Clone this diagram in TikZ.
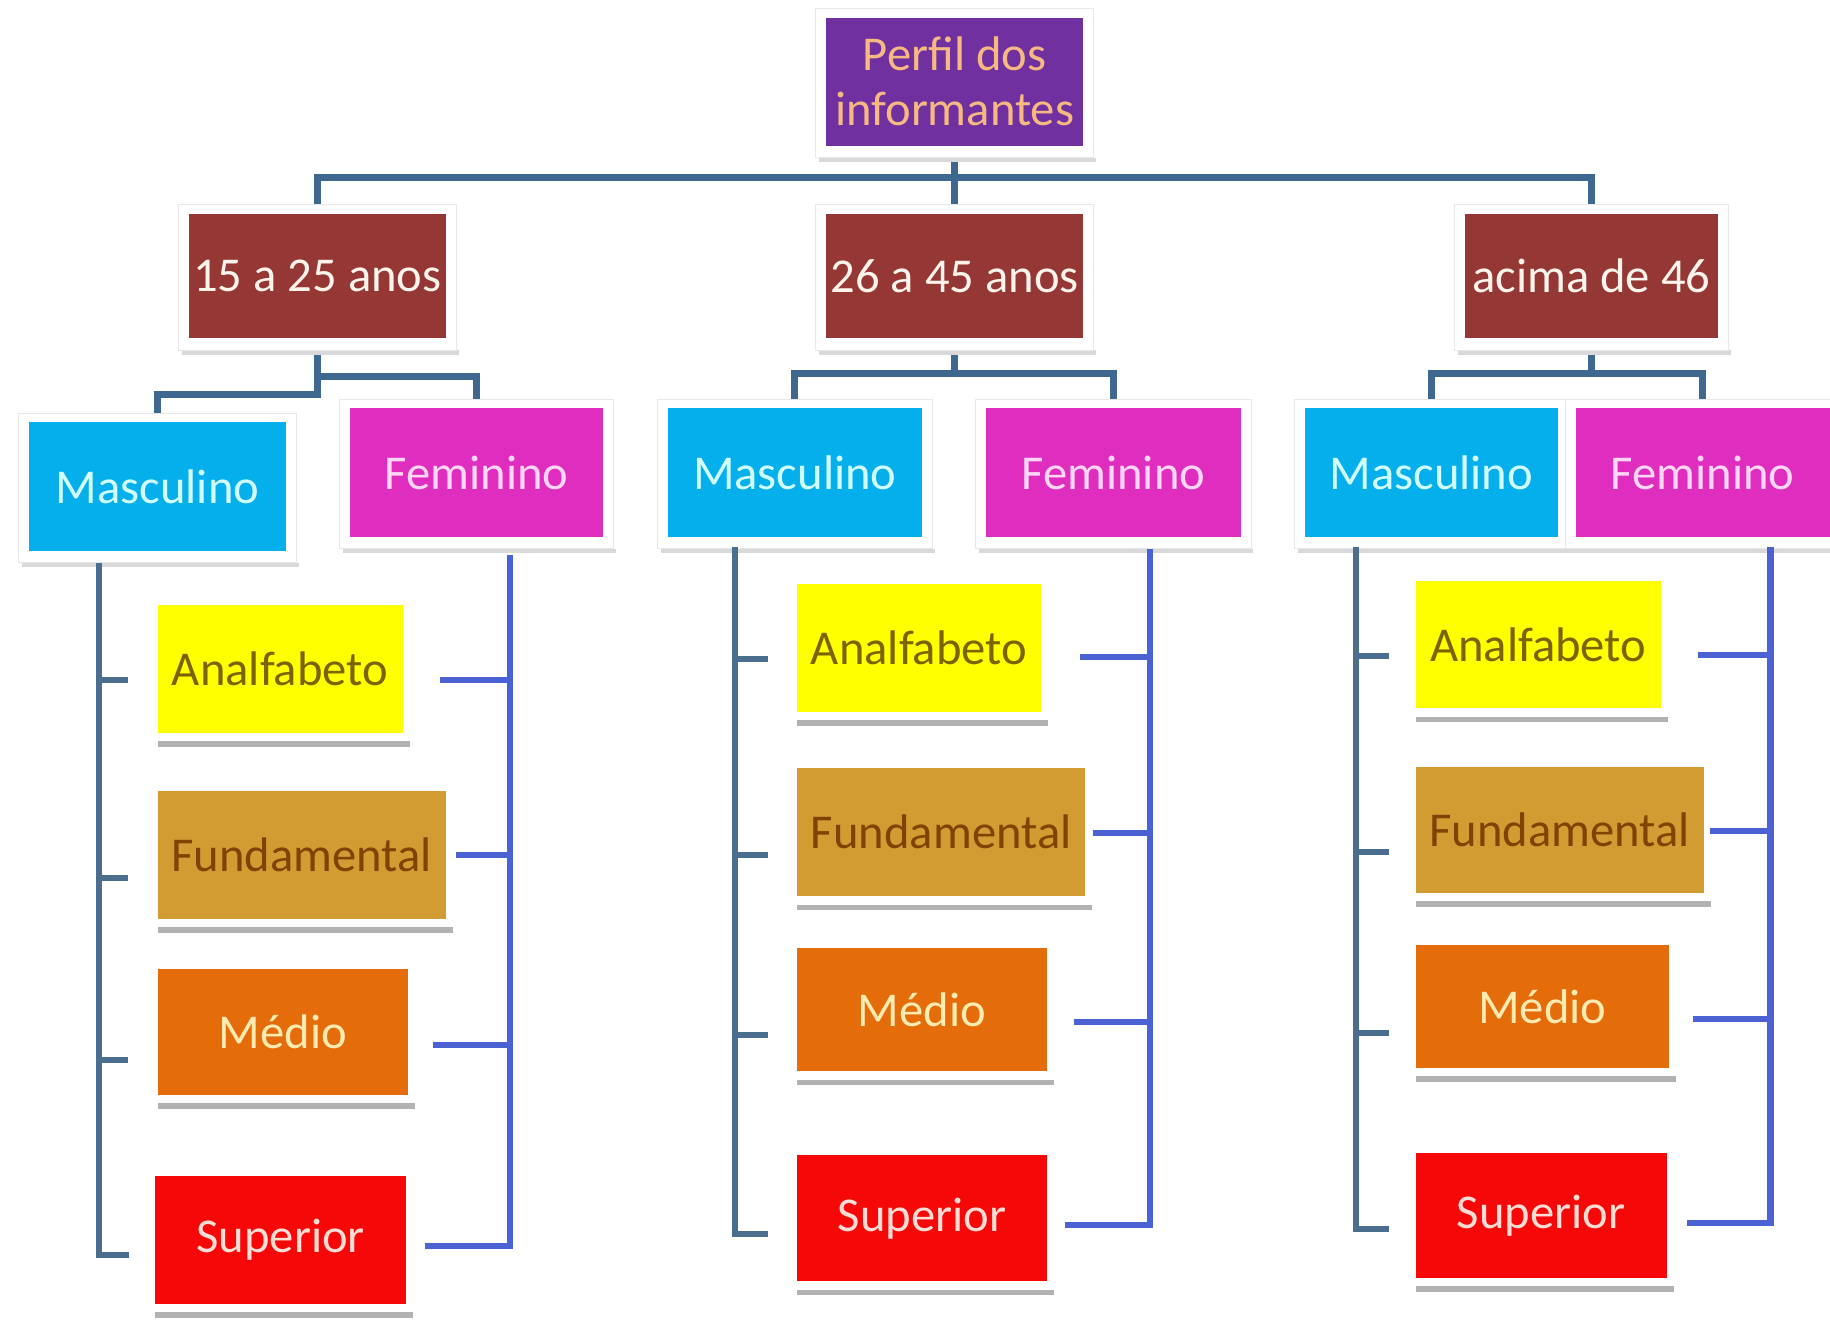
\documentclass[tikz,border=0pt]{standalone}
\usepackage{fontspec}
\setmainfont{Carlito}
\usetikzlibrary{calc,backgrounds}
\definecolor{cpurple}{HTML}{7030A0}
\definecolor{cpurpletxt}{HTML}{F6B981}
\definecolor{cbrown}{HTML}{953735}
\definecolor{cbrowntxt}{HTML}{FFF4EC}
\definecolor{ccyan}{HTML}{05AFEC}
\definecolor{ccyantxt}{HTML}{D2FFFF}
\definecolor{cmag}{HTML}{DF2DBF}
\definecolor{cmagtxt}{HTML}{FFD6F4}
\definecolor{cyel}{HTML}{FFFF00}
\definecolor{cyeltxt}{HTML}{7A6400}
\definecolor{ctan}{HTML}{D39C33}
\definecolor{ctantxt}{HTML}{804400}
\definecolor{corange}{HTML}{E46C0A}
\definecolor{corangetxt}{HTML}{FFEBB0}
\definecolor{cred}{HTML}{F70808}
\definecolor{credtxt}{HTML}{FFDCD4}
\definecolor{ctop}{HTML}{3F6891}
\definecolor{cleft}{HTML}{4B6D8E}
\definecolor{cright}{HTML}{4D62D2}
\newcommand{\pxu}{0.66pt}
\tikzset{
  boxbase/.style={rectangle, inner sep=0pt, align=center,
    font=\fontsize{27.5}{31}\selectfont},
  shadowbar/.style={fill=gray!60},
  tc/.style={draw=ctop, line width=4pt},
  lc/.style={draw=cleft, line width=3.4pt},
  rc/.style={draw=cright, line width=3.4pt},
}
% education box: name x1 y1 x2 y2 fill text-colour text
\newcommand{\ebox}[8]{%
  \fill[shadowbar] (#2,#5+7) rectangle (#4+6,#5+12);
  \node[boxbase, fill=#6, text=#7, minimum width={(#4-#2)*\pxu},
    minimum height={(#5-#3)*\pxu}] (#1) at ({(#2+#4)/2},{(#3+#5)/2}) {#8};}
% box on a white card
\newcommand{\cbox}[8]{%
  \fill[gray!30] (#2-6,#5+10) rectangle (#4+11,#5+14);
  \filldraw[fill=white, draw=gray!18, line width=0.6pt] (#2-9,#3-8) rectangle (#4+9,#5+10);
  \node[boxbase, fill=#6, text=#7, minimum width={(#4-#2)*\pxu},
    minimum height={(#5-#3)*\pxu}] (#1) at ({(#2+#4)/2},{(#3+#5)/2}) {#8};}

\begin{document}
\begin{tikzpicture}[x=0.66pt, y=-0.66pt]
\useasboundingbox (0,0) rectangle (1568,1141);

% level 0 and 1
\cbox{top}{708}{15}{928}{125}{cpurple}{cpurpletxt}{Perfil dos\\informantes}
\cbox{a1}{162}{183}{382}{290}{cbrown}{cbrowntxt}{15 a 25 anos}
\cbox{a2}{708}{183}{928}{290}{cbrown}{cbrowntxt}{26 a 45 anos}
\cbox{a3}{1255}{183}{1472}{290}{cbrown}{cbrowntxt}{acima de 46}

% level 2
\cbox{m1}{25}{362}{245}{472}{ccyan}{ccyantxt}{Masculino}
\cbox{f1}{300}{350}{517}{460}{cmag}{cmagtxt}{Feminino}
\cbox{m2}{572}{350}{790}{460}{ccyan}{ccyantxt}{Masculino}
\cbox{f2}{845}{350}{1063}{460}{cmag}{cmagtxt}{Feminino}
\cbox{m3}{1118}{350}{1335}{460}{ccyan}{ccyantxt}{Masculino}
\cbox{f3}{1350}{350}{1568}{460}{cmag}{cmagtxt}{Feminino}

% level 3, group 1
\ebox{ana1}{135}{518}{345}{628}{cyel}{cyeltxt}{Analfabeto}
\ebox{fun1}{135}{678}{382}{787}{ctan}{ctantxt}{Fundamental}
\ebox{med1}{135}{830}{350}{938}{corange}{corangetxt}{Médio}
\ebox{sup1}{133}{1008}{348}{1117}{cred}{credtxt}{Superior}
% group 2
\ebox{ana2}{683}{500}{892}{610}{cyel}{cyeltxt}{Analfabeto}
\ebox{fun2}{683}{658}{930}{768}{ctan}{ctantxt}{Fundamental}
\ebox{med2}{683}{812}{897}{918}{corange}{corangetxt}{Médio}
\ebox{sup2}{683}{990}{897}{1098}{cred}{credtxt}{Superior}
% group 3
\ebox{ana3}{1213}{498}{1423}{607}{cyel}{cyeltxt}{Analfabeto}
\ebox{fun3}{1213}{657}{1460}{765}{ctan}{ctantxt}{Fundamental}
\ebox{med3}{1213}{810}{1430}{915}{corange}{corangetxt}{Médio}
\ebox{sup3}{1213}{988}{1428}{1095}{cred}{credtxt}{Superior}

\begin{pgfonlayer}{background}
\fill[white] (0,0) rectangle (1568,1141);
% top connectors
\draw[tc] (top.south) -- ++(0,27) coordinate (tj);
\draw[tc] (a1.north) |- (tj) -| (a3.north);
\draw[tc] (tj) -- (a2.north);
% level 2 connectors
\draw[tc] (a1.south) -- ++(0,48) -| (m1.north);
\draw[tc] (a1.south) ++(0,32) -| (f1.north);
\draw[tc] (a2.south) -- ++(0,30) -| (m2.north);
\draw[tc] (a2.south) ++(0,30) -| (f2.north);
\draw[tc] (a3.south) -- ++(0,30) -| (m3.north);
\draw[tc] (a3.south) ++(0,30) -| (f3.north);
\end{pgfonlayer}

% group 1 brackets
\coordinate (L1) at ($(m1.south)+(-50,10)$);
\draw[lc] (L1) |- ($(sup1.west)+(-22,13)$);
\draw[lc] ($(ana1.west)+(-25,10)$) coordinate (t) -- (t -| L1);
\draw[lc] ($(fun1.west)+(-25,19.5)$) coordinate (t) -- (t -| L1);
\draw[lc] ($(med1.west)+(-25,24)$) coordinate (t) -- (t -| L1);
\coordinate (R1) at ($(f1.south)+(28.5,15)$);
\draw[rc] (R1) |- ($(sup1.east)+(16,5.5)$);
\draw[rc] ($(ana1.east)+(32,10)$) coordinate (t) -- (t -| R1);
\draw[rc] ($(fun1.east)+(8,0.5)$) coordinate (t) -- (t -| R1);
\draw[rc] ($(med1.east)+(21,11)$) coordinate (t) -- (t -| R1);

% group 2 brackets
\coordinate (L2) at ($(m2.south)+(-51,8)$);
\draw[lc] (L2) |- ($(sup2.west)+(-25,13)$);
\draw[lc] ($(ana2.west)+(-25,10)$) coordinate (t) -- (t -| L2);
\draw[lc] ($(fun2.west)+(-25,20)$) coordinate (t) -- (t -| L2);
\draw[lc] ($(med2.west)+(-25,22)$) coordinate (t) -- (t -| L2);
\coordinate (R2) at ($(f2.south)+(31,10)$);
\draw[rc] (R2) |- ($(sup2.east)+(15,6)$);
\draw[rc] ($(ana2.east)+(33,8)$) coordinate (t) -- (t -| R2);
\draw[rc] ($(fun2.east)+(6,1)$) coordinate (t) -- (t -| R2);
\draw[rc] ($(med2.east)+(23,11)$) coordinate (t) -- (t -| R2);

% group 3 brackets
\coordinate (L3) at ($(m3.south)+(-64.5,8)$);
\draw[lc] (L3) |- ($(sup3.west)+(-23,11.5)$);
\draw[lc] ($(ana3.west)+(-23,9.5)$) coordinate (t) -- (t -| L3);
\draw[lc] ($(fun3.west)+(-23,19)$) coordinate (t) -- (t -| L3);
\draw[lc] ($(med3.west)+(-23,22.5)$) coordinate (t) -- (t -| L3);
\coordinate (R3) at ($(f3.south)+(58,8)$);
\draw[rc] (R3) |- ($(sup3.east)+(17,6.5)$);
\draw[rc] ($(ana3.east)+(32,8.5)$) coordinate (t) -- (t -| R3);
\draw[rc] ($(fun3.east)+(5,1)$) coordinate (t) -- (t -| R3);
\draw[rc] ($(med3.east)+(20,10.5)$) coordinate (t) -- (t -| R3);
\end{tikzpicture}
\end{document}
